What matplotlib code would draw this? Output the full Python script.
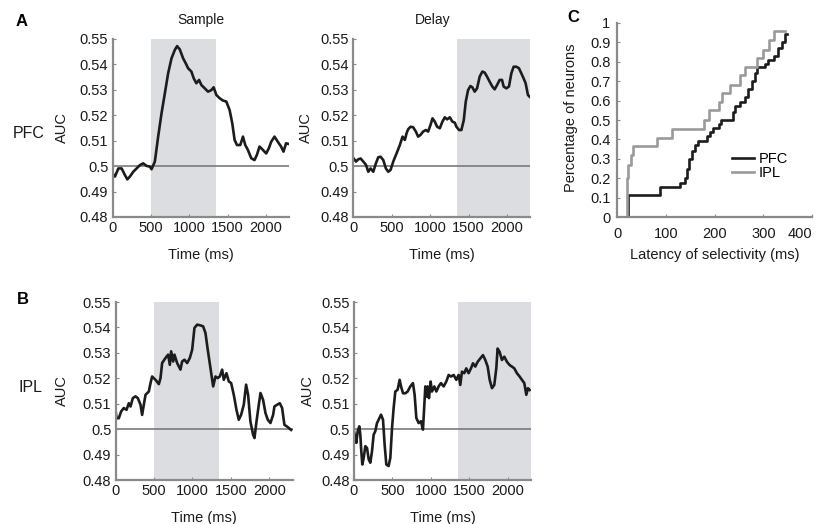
import matplotlib
matplotlib.use("Agg")
import matplotlib.pyplot as plt
from matplotlib.ticker import FuncFormatter

plt.rcParams['font.family'] = ['Liberation Sans', 'DejaVu Sans']

# PFC, sample period (time in ms, AUC)
pfc_sample_t = [0, 32, 76, 119, 162, 193, 227, 271, 314, 357, 400, 444, 487, 509, 552, 595, 639, 682,
                725, 769, 812, 842, 877, 920, 955, 985, 1028, 1059, 1093, 1128, 1158, 1202, 1245, 1288,
                1318, 1353, 1396, 1440, 1483, 1526, 1561, 1591, 1622, 1665, 1700, 1730, 1764, 1808, 1851,
                1881, 1916, 1959, 2003, 2037, 2068, 2111, 2154, 2197, 2228, 2262, 2297]
pfc_sample_auc = [0.4972, 0.4959, 0.4991, 0.4991, 0.4965, 0.4948, 0.4959, 0.4978, 0.4991, 0.5004, 0.5011,
                  0.5001, 0.4998, 0.4988, 0.5018, 0.5116, 0.5208, 0.5286, 0.5365, 0.5424, 0.5457, 0.5472,
                  0.5459, 0.5424, 0.5404, 0.5385, 0.5372, 0.5345, 0.5326, 0.5339, 0.5319, 0.5306, 0.5293,
                  0.5299, 0.5310, 0.5280, 0.5267, 0.5258, 0.5254, 0.5221, 0.5168, 0.5103, 0.5083, 0.5083,
                  0.5116, 0.5083, 0.5064, 0.5031, 0.5024, 0.5044, 0.5077, 0.5064, 0.5050, 0.5070, 0.5096,
                  0.5116, 0.5096, 0.5077, 0.5057, 0.5090, 0.5087]

# PFC, delay period
pfc_delay_t = [0, 35, 65, 95, 130, 165, 195, 225, 260, 294, 325, 355, 390, 424, 455, 485, 520, 563, 606,
               641, 671, 693, 714, 745, 779, 814, 844, 875, 909, 944, 974, 1005, 1031, 1061, 1091, 1126,
               1160, 1191, 1221, 1256, 1290, 1321, 1342, 1377, 1407, 1438, 1464, 1494, 1524, 1550, 1580,
               1611, 1645, 1680, 1710, 1741, 1775, 1810, 1840, 1871, 1905, 1936, 1957, 1992, 2026, 2057,
               2087, 2122, 2156, 2187, 2217, 2243, 2273, 2295]
pfc_delay_auc = [0.5032, 0.5018, 0.5027, 0.5030, 0.5018, 0.5005, 0.4978, 0.4991, 0.4978, 0.5011, 0.5035,
                 0.5037, 0.5024, 0.4991, 0.4978, 0.4985, 0.5018, 0.5050, 0.5083, 0.5116, 0.5103, 0.5129,
                 0.5145, 0.5155, 0.5153, 0.5136, 0.5116, 0.5123, 0.5136, 0.5142, 0.5136, 0.5162, 0.5188,
                 0.5175, 0.5155, 0.5149, 0.5175, 0.5192, 0.5184, 0.5192, 0.5175, 0.5171, 0.5155, 0.5142,
                 0.5142, 0.5181, 0.5254, 0.5299, 0.5315, 0.5310, 0.5293, 0.5306, 0.5352, 0.5372, 0.5368,
                 0.5352, 0.5332, 0.5313, 0.5302, 0.5319, 0.5339, 0.5339, 0.5313, 0.5306, 0.5313, 0.5365,
                 0.5391, 0.5391, 0.5385, 0.5365, 0.5345, 0.5326, 0.5280, 0.5273]

# IPL, sample period
ipl_sample_t = [0, 13, 43, 74, 108, 143, 173, 195, 225, 260, 290, 325, 346, 368, 390, 433, 455, 476, 520,
                563, 585, 606, 650, 684, 706, 723, 749, 766, 801, 844, 866, 896, 931, 966, 996, 1026, 1061,
                1104, 1139, 1169, 1199, 1234, 1269, 1299, 1329, 1355, 1386, 1407, 1442, 1472, 1503, 1537,
                1572, 1602, 1632, 1667, 1697, 1723, 1753, 1788, 1806, 1832, 1862, 1884, 1918, 1949, 1979,
                2013, 2048, 2065, 2100, 2135, 2165, 2195, 2230, 2282]
ipl_sample_auc = [0.5076, 0.5043, 0.5043, 0.5070, 0.5083, 0.5076, 0.5102, 0.5089, 0.5122, 0.5129, 0.5122,
                  0.5096, 0.5056, 0.5096, 0.5135, 0.5148, 0.5181, 0.5207, 0.5194, 0.5177, 0.5201, 0.5260,
                  0.5280, 0.5293, 0.5253, 0.5306, 0.5266, 0.5293, 0.5260, 0.5234, 0.5266, 0.5273, 0.5260,
                  0.5280, 0.5312, 0.5398, 0.5411, 0.5408, 0.5404, 0.5378, 0.5312, 0.5240, 0.5168, 0.5207,
                  0.5201, 0.5207, 0.5234, 0.5194, 0.5220, 0.5188, 0.5181, 0.5135, 0.5076, 0.5037, 0.5056,
                  0.5096, 0.5175, 0.5135, 0.5030, 0.4978, 0.4965, 0.5030, 0.5096, 0.5142, 0.5115, 0.5063,
                  0.5037, 0.5024, 0.5056, 0.5089, 0.5096, 0.5102, 0.5083, 0.5017, 0.5010, 0.4997]

# IPL, delay period
ipl_delay_t = [0, 17, 30, 48, 69, 82, 95, 108, 126, 147, 169, 191, 212, 234, 255, 277, 299, 320, 351, 377,
               398, 420, 450, 472, 494, 515, 537, 567, 593, 611, 637, 667, 697, 732, 766, 788, 810, 840,
               870, 896, 914, 927, 940, 957, 974, 996, 1013, 1044, 1070, 1100, 1130, 1165, 1199, 1230,
               1260, 1295, 1329, 1360, 1381, 1403, 1433, 1459, 1489, 1520, 1546, 1576, 1607, 1641, 1676,
               1706, 1737, 1763, 1793, 1823, 1849, 1866, 1892, 1922, 1953, 1987, 2022, 2052, 2083, 2117,
               2152, 2182, 2213, 2239, 2260, 2282]
ipl_delay_auc = [0.4992, 0.4965, 0.4946, 0.4992, 0.5011, 0.4978, 0.4913, 0.4861, 0.4887, 0.4933, 0.4926,
                 0.4881, 0.4868, 0.4913, 0.4978, 0.4992, 0.5024, 0.5037, 0.5057, 0.5037, 0.4939, 0.4861,
                 0.4855, 0.4887, 0.5004, 0.5083, 0.5148, 0.5155, 0.5194, 0.5168, 0.5141, 0.5141, 0.5148,
                 0.5168, 0.5181, 0.5135, 0.5044, 0.5024, 0.5031, 0.4998, 0.5096, 0.5168, 0.5128, 0.5168,
                 0.5122, 0.5187, 0.5148, 0.5168, 0.5148, 0.5168, 0.5181, 0.5168, 0.5187, 0.5213, 0.5207,
                 0.5213, 0.5194, 0.5213, 0.5174, 0.5226, 0.5220, 0.5239, 0.5220, 0.5239, 0.5259, 0.5246,
                 0.5265, 0.5278, 0.5291, 0.5272, 0.5246, 0.5194, 0.5161, 0.5174, 0.5239, 0.5317, 0.5304,
                 0.5272, 0.5285, 0.5265, 0.5252, 0.5246, 0.5239, 0.5220, 0.5207, 0.5194, 0.5181, 0.5135,
                 0.5161, 0.5154]

# Cumulative latency of selectivity (ms, fraction of neurons)
pfc_lat = [21, 21, 88, 129, 139, 144, 148, 153, 160, 166, 173, 184, 190, 197, 208, 214, 221, 238, 242, 252,
           262, 269, 276, 283, 288, 293, 303, 310, 321, 331, 338, 345, 348]
pfc_frac = [0.0, 0.115, 0.155, 0.175, 0.20, 0.25, 0.30, 0.34, 0.37, 0.39, 0.39, 0.42, 0.44, 0.46, 0.48,
            0.50, 0.50, 0.54, 0.57, 0.59, 0.62, 0.66, 0.70, 0.74, 0.77, 0.77, 0.79, 0.81, 0.83, 0.87, 0.90,
            0.94, 0.94]
ipl_lat = [19, 20, 23, 29, 33, 81, 112, 179, 189, 209, 216, 232, 252, 262, 288, 300, 312, 321, 345]
ipl_frac = [0.0, 0.20, 0.27, 0.32, 0.365, 0.41, 0.455, 0.50, 0.55, 0.59, 0.64, 0.68, 0.73, 0.77, 0.82,
            0.86, 0.91, 0.955, 0.955]

sample_window = (500, 1350)
delay_window = (1350, 2300)

W, H = 818, 524
fig = plt.figure(figsize=(W / 100, H / 100), dpi=100)


def box(left, top, right, bottom):
    return [left / W, 1 - bottom / H, (right - left) / W, (bottom - top) / H]


fmt = FuncFormatter(lambda v, p: '%g' % round(v, 3))
spine_col = '#8a8a8a'
txt_col = '#1a1a1a'


def style(ax):
    for s in ['top', 'right']:
        ax.spines[s].set_visible(False)
    for s in ['left', 'bottom']:
        ax.spines[s].set_color(spine_col)
        ax.spines[s].set_linewidth(1.6)
    ax.tick_params(direction='in', length=2.5, width=0.8, color=spine_col,
                   labelsize=10.5, labelcolor=txt_col, pad=3)


def auc_panel(ax, t, auc, window, ylab_x):
    ax.axvspan(window[0], window[1], color='#dcdde0', lw=0, zorder=0)
    ax.axhline(0.5, color='#7a7a7a', lw=1.2, zorder=1)
    ax.plot(t, auc, color='#1c1c1c', lw=1.9, zorder=2)
    ax.set_xlim(0, 2300)
    ax.set_ylim(0.48, 0.55)
    ax.set_xticks([0, 500, 1000, 1500, 2000])
    ax.set_yticks([0.48, 0.49, 0.5, 0.51, 0.52, 0.53, 0.54, 0.55])
    ax.yaxis.set_major_formatter(fmt)
    style(ax)
    ax.set_xlabel('Time (ms)', fontsize=10.5, color=txt_col, labelpad=9)
    ax.set_ylabel('AUC', fontsize=10.5, color=txt_col)
    ax.yaxis.set_label_coords(ylab_x, 0.5)


ax1 = fig.add_axes(box(112.5, 39, 289, 217))
auc_panel(ax1, pfc_sample_t, pfc_sample_auc, sample_window, -0.245)
ax1.set_title('Sample', fontsize=10, color=txt_col, pad=11)

ax2 = fig.add_axes(box(353.3, 39, 530, 217))
auc_panel(ax2, pfc_delay_t, pfc_delay_auc, delay_window, -0.228)
ax2.set_title('Delay', fontsize=10, color=txt_col, pad=11, x=0.45)

ax3 = fig.add_axes(box(115.5, 302, 292.5, 480))
auc_panel(ax3, ipl_sample_t, ipl_sample_auc, sample_window, -0.263)

ax4 = fig.add_axes(box(354, 302, 531, 480))
auc_panel(ax4, ipl_delay_t, ipl_delay_auc, delay_window, -0.22)

ax5 = fig.add_axes(box(617.3, 22.7, 812, 217.3))
ax5.step(pfc_lat, pfc_frac, where='post', color='#1c1c1c', lw=1.9, label='PFC')
ax5.step(ipl_lat, ipl_frac, where='post', color='#9a9a9a', lw=1.9, label='IPL')
ax5.set_xlim(0, 400)
ax5.set_ylim(0, 1)
ax5.set_xticks([0, 100, 200, 300, 400])
ax5.set_yticks([i / 10 for i in range(11)])
ax5.yaxis.set_major_formatter(fmt)
style(ax5)
ax5.tick_params(axis='x', pad=7)
ax5.tick_params(axis='y', pad=5)
ax5.xaxis.get_ticklabels()[-1].set_horizontalalignment('right')
ax5.set_xlabel('Latency of selectivity (ms)', fontsize=10.5, color=txt_col, labelpad=5)
ax5.set_ylabel('Percentage of neurons', fontsize=10.5, color=txt_col)
ax5.yaxis.set_label_coords(-0.2, 0.51)
ax5.legend(loc='center left', bbox_to_anchor=(0.59, 0.264), frameon=False, fontsize=10.5,
           handlelength=1.5, handletextpad=0.3, labelspacing=0.0, borderpad=0, borderaxespad=0)

# panel letters and row labels
fig.text(22 / W, 1 - 21 / H, 'A', fontsize=12, fontweight='bold', ha='center', va='center')
fig.text(23 / W, 1 - 300 / H, 'B', fontsize=12, fontweight='bold', ha='center', va='center')
fig.text(573 / W, 1 - 18 / H, 'C', fontsize=12, fontweight='bold', ha='center', va='center')
fig.text(29 / W, 1 - 133 / H, 'PFC', fontsize=11.5, color=txt_col, ha='center', va='center')
fig.text(31 / W, 1 - 388 / H, 'IPL', fontsize=11.5, color=txt_col, ha='center', va='center')

fig.savefig('out.png', dpi=100)
